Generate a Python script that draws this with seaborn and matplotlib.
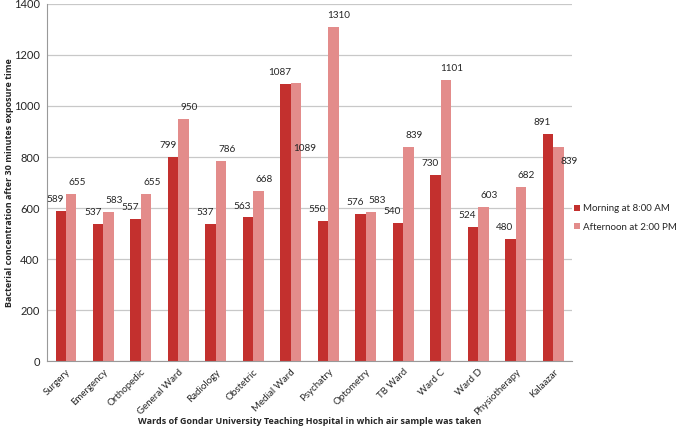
import pandas as pd
import matplotlib
matplotlib.use('Agg')
import matplotlib.pyplot as plt
import seaborn as sns

wards = ['Surgery', 'Emergency', 'Orthopedic', 'General Ward', 'Radiology', 'Obstetric',
         'Medial Ward', 'Psychatry', 'Optometry', 'TB Ward', 'Ward C', 'Ward D',
         'Physiotherapy', 'Kalaazar']
morning = [589, 537, 557, 799, 537, 563, 1087, 550, 576, 540, 730, 524, 480, 891]
afternoon = [655, 583, 655, 950, 786, 668, 1089, 1310, 583, 839, 1101, 603, 682, 839]
series = ['Morning at 8:00 AM', 'Afternoon at 2:00 PM']

df = pd.DataFrame({
    'ward': wards * 2,
    'value': morning + afternoon,
    'time': [series[0]] * len(wards) + [series[1]] * len(wards),
})

sns.set_style('white')
plt.rcParams['font.family'] = ['Lato', 'DejaVu Sans']

fig = plt.figure(figsize=(6.85, 4.32), dpi=100)
ax = fig.add_axes([0.069, 0.164, 0.766, 0.827])

palette = {series[0]: '#c3302e', series[1]: '#e38c8b'}
sns.barplot(data=df, x='ward', y='value', hue='time', palette=palette, width=0.56,
            gap=0, edgecolor='none', saturation=1, ax=ax, legend=True)

ax.set_ylim(0, 1400)
ax.set_yticks(range(0, 1401, 200))
ax.yaxis.grid(True, color='#c8c8c8', linewidth=0.9)
ax.set_axisbelow(True)
for s in ['top', 'right']:
    ax.spines[s].set_visible(False)
ax.spines['left'].set_color('#999999')
ax.spines['bottom'].set_color('#999999')
ax.tick_params(axis='y', labelsize=8, pad=2)
ax.tick_params(axis='x', labelsize=7, pad=1)
plt.setp(ax.get_xticklabels(), rotation=45, ha='right', rotation_mode='anchor')
ax.set_xlim(-0.5, len(wards) - 0.5)

bold = dict(fontsize=6.5, fontweight='bold', family=['Open Sans', 'DejaVu Sans'])
ax.set_xlabel('Wards of Gondar University Teaching Hospital in which air sample was taken',
              va='center', **bold)
ax.xaxis.set_label_coords(0.5, -0.168)
ax.set_ylabel('Bacterial concentration after 30 minutes exposure time', va='center', **bold)
ax.yaxis.set_label_coords(-0.072, 0.5)

# value labels (Excel style, a few shifted)
for ci, cont in enumerate(ax.containers):
    for i, p in enumerate(cont.patches):
        v = p.get_height()
        x = p.get_x() + p.get_width() / 2
        dx, dy = (-4 if ci == 0 else 4), 5
        if ci == 1 and wards[i] == 'Medial Ward':
            dx, dy = 6, -50
        if ci == 1 and wards[i] == 'Kalaazar':
            dx, dy = 8, -14
        ax.annotate(str(int(v)), (x, v), xytext=(dx, dy), textcoords='offset points',
                    ha='center', va='bottom', fontsize=7.2)

ax.legend(loc='upper left', bbox_to_anchor=(1.0, 0.445), frameon=False,
          fontsize=7, handlelength=0.6, handleheight=0.6, handletextpad=0.3,
          labelspacing=1.0, title=None, borderaxespad=0.0, borderpad=0.2)

fig.savefig('out.png', dpi=100)
